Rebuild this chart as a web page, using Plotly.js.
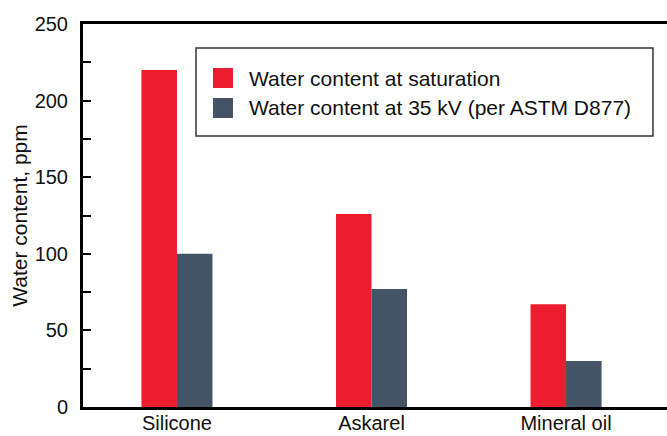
<!DOCTYPE html>
<html>
<head>
<meta charset="utf-8">
<script src="https://cdn.plot.ly/plotly-3.0.1.min.js"></script>
<style>html,body{margin:0;padding:0;background:#fff;}#chart{width:667px;height:436px;}</style>
</head>
<body>
<div id="chart"></div>
<script>
const categories = ["Silicone", "Askarel", "Mineral oil"];
const saturation = [220, 126, 67];
const at35kV = [100, 77, 30];
const seriesNames = ["Water content at saturation", "Water content at 35 kV (per ASTM D877)"];
const yTickVals = [0, 50, 100, 150, 200, 250];
const colors = ["#ED1C2E", "#435466"];

const FONT = "Liberation Sans, Arial, Helvetica, sans-serif";

const data = [
  {type: "bar", x: categories, y: saturation, name: seriesNames[0], marker: {color: colors[0], line: {width: 0}}, showlegend: false},
  {type: "bar", x: categories, y: at35kV, name: seriesNames[1], marker: {color: colors[1], line: {width: 0}}, showlegend: false}
];

// Legend drawn in paper coordinates (box, swatches, labels)
const legendBox = {x0: 0.1935, x1: 0.976, y0: 0.7076, y1: 0.9373};
const swatchX = [0.2226, 0.2568];
const swatchY = [[0.8329, 0.8851], [0.7546, 0.8068]];
const labelX = 0.2808;
const labelY = [0.859, 0.7807];

const shapes = [
  {type: "rect", xref: "paper", yref: "paper", x0: legendBox.x0, x1: legendBox.x1, y0: legendBox.y0, y1: legendBox.y1,
   line: {color: "#333", width: 1.5}, fillcolor: "#fff", layer: "above"}
];
const annotations = [];
seriesNames.forEach((nm, i) => {
  shapes.push({type: "rect", xref: "paper", yref: "paper", x0: swatchX[0], x1: swatchX[1], y0: swatchY[i][0], y1: swatchY[i][1],
    line: {width: 0}, fillcolor: colors[i], layer: "above"});
  annotations.push({xref: "paper", yref: "paper", x: labelX, y: labelY[i], xanchor: "left", yanchor: "middle",
    text: nm, showarrow: false, font: {family: FONT, size: 21, color: "#111"}});
});

const layout = {
  width: 667, height: 436,
  margin: {l: 83, r: 0, t: 24, b: 29, pad: 0},
  paper_bgcolor: "#fff", plot_bgcolor: "#fff",
  font: {family: FONT, size: 20, color: "#111"},
  barmode: "group", bargap: 0.635, bargroupgap: 0,
  showlegend: false,
  shapes: shapes,
  annotations: annotations,
  xaxis: {
    type: "category", range: [-0.483, 2.519],
    showline: true, linecolor: "#000", linewidth: 3, mirror: true,
    ticks: "", showgrid: false, zeroline: false,
    ticklabelstandoff: -4,
    tickfont: {family: FONT, size: 20, color: "#111"}
  },
  yaxis: {
    range: [0, 250], tickvals: yTickVals,
    showline: true, linecolor: "#000", linewidth: 3,
    ticks: "inside", ticklen: 8, tickwidth: 2, tickcolor: "#000",
    minor: {dtick: 25, ticks: "inside", ticklen: 8, tickwidth: 2, tickcolor: "#000", showgrid: false},
    showgrid: false, zeroline: false,
    ticklabelstandoff: 8,
    tickfont: {family: FONT, size: 20, color: "#111"},
    title: {text: "Water content, ppm", font: {family: FONT, size: 21, color: "#111"}, standoff: 2}
  }
};

Plotly.newPlot("chart", data, layout, {displayModeBar: false, staticPlot: true});
</script>
</body>
</html>
